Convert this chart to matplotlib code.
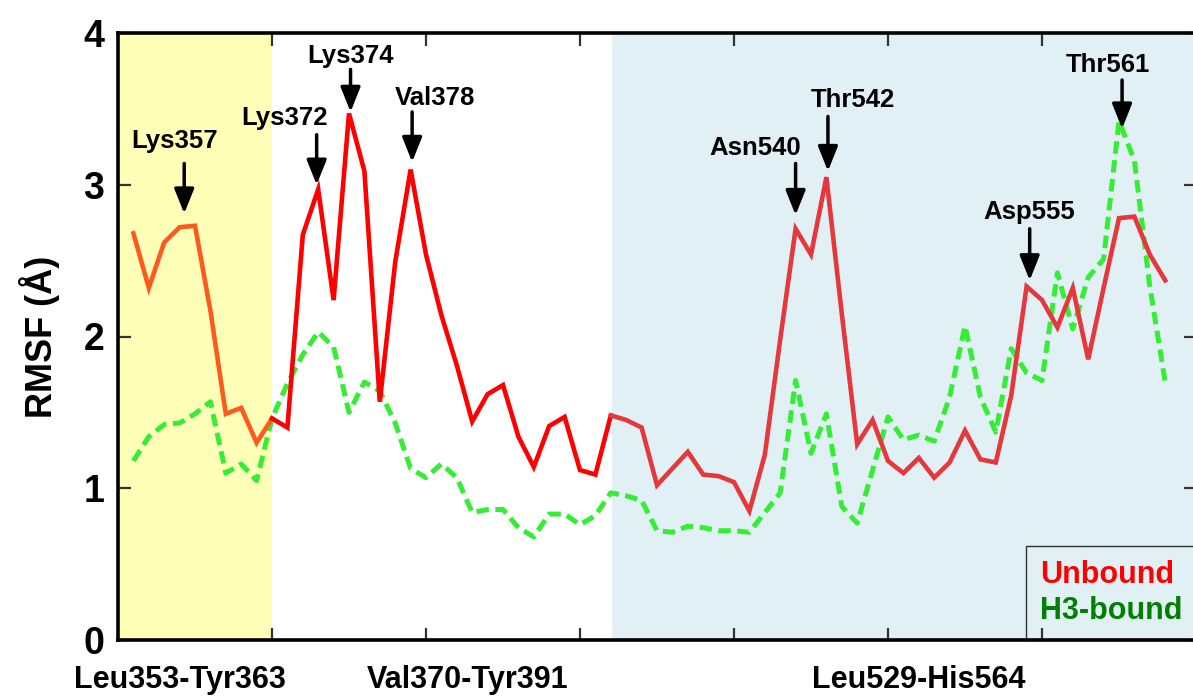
import matplotlib
matplotlib.use("Agg")
import matplotlib.pyplot as plt
from matplotlib.lines import Line2D
from matplotlib.transforms import blended_transform_factory

plt.rcParams['font.family'] = ['Liberation Sans', 'DejaVu Sans']
plt.rcParams['font.weight'] = 'bold'

# residue position along the axis (1..68)
positions = list(range(1, 69))

unbound = [2.68, 2.32, 2.62, 2.72, 2.73, 2.17, 1.49, 1.53, 1.30, 1.46,
           1.40, 2.67, 2.97, 2.24, 3.47, 3.09, 1.57, 2.49, 3.10, 2.54,
           2.14, 1.81, 1.44, 1.62, 1.68, 1.34, 1.14, 1.41, 1.47, 1.12,
           1.09, 1.48, 1.45, 1.40, 1.02, 1.13, 1.24, 1.09, 1.08, 1.04,
           0.85, 1.22, 1.98, 2.71, 2.54, 3.05, 2.15, 1.29, 1.45, 1.18,
           1.10, 1.20, 1.07, 1.17, 1.38, 1.19, 1.17, 1.61, 2.33, 2.24,
           2.06, 2.32, 1.85, 2.32, 2.78, 2.79, 2.54, 2.37]

h3_bound = [1.18, 1.34, 1.42, 1.43, 1.49, 1.57, 1.10, 1.16, 1.05, 1.46,
            1.69, 1.88, 2.03, 1.93, 1.50, 1.70, 1.64, 1.43, 1.13, 1.07,
            1.16, 1.07, 0.84, 0.86, 0.86, 0.74, 0.68, 0.83, 0.83, 0.76,
            0.82, 0.97, 0.95, 0.92, 0.72, 0.71, 0.75, 0.74, 0.72, 0.72,
            0.71, 0.84, 0.97, 1.71, 1.23, 1.49, 0.88, 0.77, 1.12, 1.47,
            1.32, 1.35, 1.31, 1.60, 2.07, 1.60, 1.37, 1.92, 1.76, 1.71,
            2.42, 2.05, 2.39, 2.51, 3.42, 3.16, 2.33, 1.70]

# segments of the unbound curve: (first pos, last pos, colour)
segments = [(1, 10, '#ff5a1e'), (10, 32, '#ff0000'), (32, 68, '#e5383d')]

region_labels = ['Leu353-Tyr363', 'Val370-Tyr391', 'Leu529-His564']
region_label_x = [4.0, 22.7, 52.0]

# peak labels: text, position, text dx, text y, arrow tail y, arrow tip y
peaks = [('Lys357', 4.3, -0.65, 3.29, 3.14, 2.81),
         ('Lys372', 12.9, -2.1, 3.44, 3.33, 3.00),
         ('Lys374', 15.1, 0.0, 3.85, 3.76, 3.48),
         ('Val378', 19.1, 1.5, 3.57, 3.48, 3.15),
         ('Asn540', 44.0, -2.6, 3.24, 3.14, 2.80),
         ('Thr542', 46.1, 1.6, 3.56, 3.45, 3.09),
         ('Asp555', 59.2, 0.0, 2.82, 2.71, 2.37),
         ('Thr561', 65.2, -0.9, 3.79, 3.69, 3.37)]

fig = plt.figure(figsize=(11.93, 6.98), dpi=100)
ax = fig.add_axes([118 / 1193, 58 / 698, 1078 / 1193, 607 / 698])

ax.axvspan(0, 10, color='#ffffb8', lw=0, zorder=0)
ax.axvspan(32.1, 70, color='#e1f0f5', lw=0, zorder=0)

ax.plot(positions, h3_bound, color='#33ee33', lw=3.6, dashes=(2.5, 1.3), zorder=2)
for start, end, col in segments:
    ax.plot(positions[start - 1:end], unbound[start - 1:end], color=col, lw=3.3,
            solid_joinstyle='miter', zorder=3)

for name, px, dx, ty, tail, tip in peaks:
    ax.text(px + dx, ty, name, ha='center', va='center', fontsize=18.5,
            fontweight='bold', zorder=5)
    ax.annotate('', xy=(px, tip), xytext=(px, tail),
                arrowprops=dict(arrowstyle='-|>,head_width=0.4,head_length=1.0',
                                mutation_scale=15, lw=2.5, color='black',
                                shrinkA=0, shrinkB=0),
                zorder=5)

trans = blended_transform_factory(ax.transData, ax.transAxes)
for lab, lx in zip(region_labels, region_label_x):
    ax.text(lx, -0.066, lab, transform=trans, ha='center', va='center',
            fontsize=22, fontweight='bold')

ax.set_xlim(0, 70)
ax.set_ylim(0, 4)
ax.set_xticks([10, 20, 30, 40, 50, 60])
ax.set_xticklabels([])
ax.set_yticks([0, 1, 2, 3, 4])
ax.set_yticklabels(['0', '1', '2', '3', '4'], fontsize=27, fontweight='bold')
ax.tick_params(direction='in', length=9, width=1.6, color='#333333',
               top=True, right=True, pad=10)
for sp in ax.spines.values():
    sp.set_linewidth(2.6)
    sp.set_zorder(6)

ax.set_ylabel('RMSF (Å)', fontsize=26, fontweight='bold')
ax.yaxis.set_label_coords(-0.054, 0.5)

handles = [Line2D([], [], lw=0, color='none'), Line2D([], [], lw=0, color='none')]
leg = ax.legend(handles, ['Unbound', 'H3-bound'], loc='lower right',
                bbox_to_anchor=(1.0, 0.0), borderaxespad=0, handlelength=0,
                handletextpad=0, labelspacing=0.2, borderpad=0.45,
                fancybox=False, framealpha=1,
                labelcolor=['#ff0000', '#008000'],
                prop={'weight': 'bold', 'size': 22})
leg.get_frame().set_facecolor('none')
leg.get_frame().set_edgecolor('#333333')
leg.get_frame().set_linewidth(1.0)

fig.savefig('out.png', dpi=100)
